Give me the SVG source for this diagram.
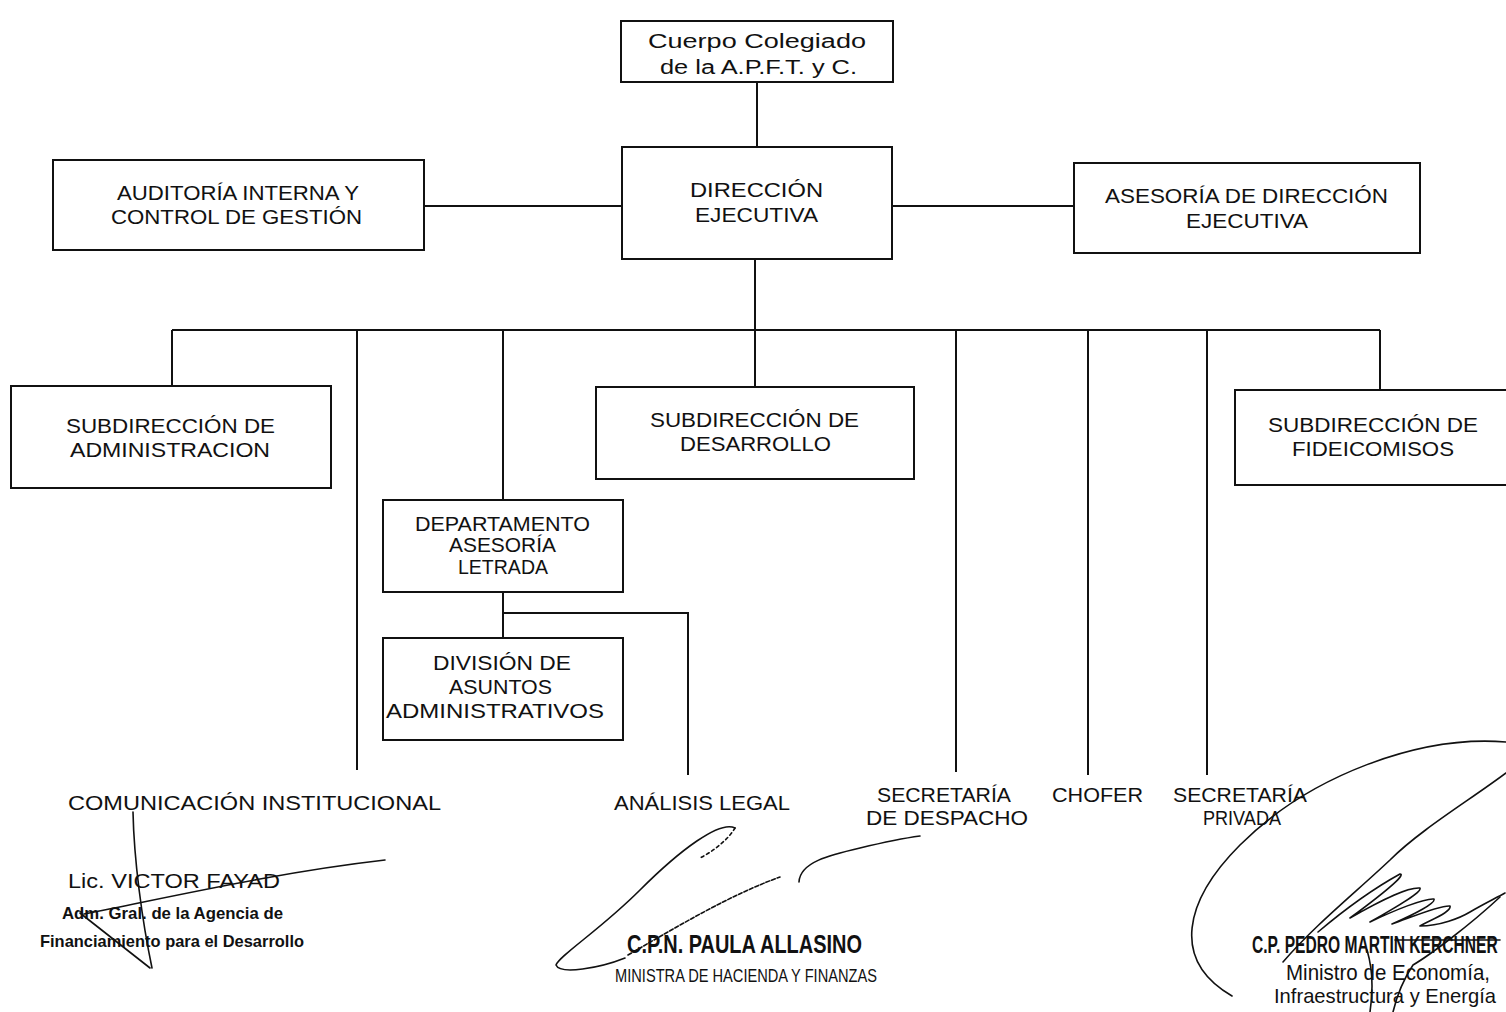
<svg xmlns="http://www.w3.org/2000/svg" width="1506" height="1012" viewBox="0 0 1506 1012">
<style>
.box{fill:#fff;stroke:#111;stroke-width:2}
.t{font-family:"Liberation Sans","DejaVu Sans",sans-serif;font-size:19.5px;fill:#111}
.c{stroke:#111;stroke-width:2;fill:none}
.sig{stroke:#111;stroke-width:1.6;fill:none;stroke-linecap:round;stroke-linejoin:round}
.s{font-family:"Liberation Sans Narrow","Liberation Sans",sans-serif;fill:#111}
</style>
<rect width="1506" height="1012" fill="#fff"/>
<g id="connectors">
<path class="c" d="M757 82V147"/>
<path class="c" d="M424 206H622"/>
<path class="c" d="M892 206H1074"/>
<path class="c" d="M755 259V387"/>
<path class="c" d="M172 330H1380"/>
<path class="c" d="M172 330V386"/>
<path class="c" d="M357 330V770"/>
<path class="c" d="M503 330V500"/>
<path class="c" d="M956 330V772"/>
<path class="c" d="M1088 330V775"/>
<path class="c" d="M1207 330V775"/>
<path class="c" d="M1380 330V390"/>
<path class="c" d="M503 592V638"/>
<path class="c" d="M503 613H688V775"/>
</g>
<g id="cuerpo">
<rect class="box" x="621" y="21" width="272" height="61"/>
<text class="t" x="648" y="48" textLength="218" lengthAdjust="spacingAndGlyphs">Cuerpo Colegiado</text>
<text class="t" x="660" y="74" textLength="197" lengthAdjust="spacingAndGlyphs">de la A.P.F.T. y C.</text>
</g>
<g id="direccion">
<rect class="box" x="622" y="147" width="270" height="112"/>
<text class="t" x="690" y="197" textLength="133" lengthAdjust="spacingAndGlyphs">DIRECCIÓN</text>
<text class="t" x="695" y="222" textLength="123" lengthAdjust="spacingAndGlyphs">EJECUTIVA</text>
</g>
<g id="auditoria">
<rect class="box" x="53" y="160" width="371" height="90"/>
<text class="t" x="117" y="200" textLength="242" lengthAdjust="spacingAndGlyphs">AUDITORÍA INTERNA Y</text>
<text class="t" x="111" y="224" textLength="251" lengthAdjust="spacingAndGlyphs">CONTROL DE GESTIÓN</text>
</g>
<g id="asesoria">
<rect class="box" x="1074" y="163" width="346" height="90"/>
<text class="t" x="1105" y="203" textLength="283" lengthAdjust="spacingAndGlyphs">ASESORÍA DE DIRECCIÓN</text>
<text class="t" x="1186" y="228" textLength="122" lengthAdjust="spacingAndGlyphs">EJECUTIVA</text>
</g>
<g id="sub-admin">
<rect class="box" x="11" y="386" width="320" height="102"/>
<text class="t" x="66" y="433" textLength="209" lengthAdjust="spacingAndGlyphs">SUBDIRECCIÓN DE</text>
<text class="t" x="70" y="457" textLength="200" lengthAdjust="spacingAndGlyphs">ADMINISTRACION</text>
</g>
<g id="sub-desarrollo">
<rect class="box" x="596" y="387" width="318" height="92"/>
<text class="t" x="650" y="427" textLength="209" lengthAdjust="spacingAndGlyphs">SUBDIRECCIÓN DE</text>
<text class="t" x="680" y="451" textLength="151" lengthAdjust="spacingAndGlyphs">DESARROLLO</text>
</g>
<g id="sub-fideicomisos">
<rect class="box" x="1235" y="390" width="280" height="95"/>
<text class="t" x="1268" y="432" textLength="210" lengthAdjust="spacingAndGlyphs">SUBDIRECCIÓN DE</text>
<text class="t" x="1292" y="456" textLength="162" lengthAdjust="spacingAndGlyphs">FIDEICOMISOS</text>
</g>
<g id="depto">
<rect class="box" x="383" y="500" width="240" height="92"/>
<text class="t" x="415" y="531" textLength="175" lengthAdjust="spacingAndGlyphs">DEPARTAMENTO</text>
<text class="t" x="449" y="552" textLength="107" lengthAdjust="spacingAndGlyphs">ASESORÍA</text>
<text class="t" x="458" y="574" textLength="90" lengthAdjust="spacingAndGlyphs">LETRADA</text>
</g>
<g id="division">
<rect class="box" x="383" y="638" width="240" height="102"/>
<text class="t" x="433" y="670" textLength="138" lengthAdjust="spacingAndGlyphs">DIVISIÓN DE</text>
<text class="t" x="449" y="694" textLength="103" lengthAdjust="spacingAndGlyphs">ASUNTOS</text>
<text class="t" x="386" y="718" textLength="218" lengthAdjust="spacingAndGlyphs">ADMINISTRATIVOS</text>
</g>
<g id="comunicacion">
<text class="t" x="68" y="810" textLength="373" lengthAdjust="spacingAndGlyphs">COMUNICACIÓN INSTITUCIONAL</text>
</g>
<g id="analisis">
<text class="t" x="614" y="810" textLength="176" lengthAdjust="spacingAndGlyphs">ANÁLISIS LEGAL</text>
</g>
<g id="sec-despacho">
<text class="t" x="877" y="802" textLength="134" lengthAdjust="spacingAndGlyphs">SECRETARÍA</text>
<text class="t" x="866" y="825" textLength="162" lengthAdjust="spacingAndGlyphs">DE DESPACHO</text>
</g>
<g id="chofer">
<text class="t" x="1052" y="802" textLength="91" lengthAdjust="spacingAndGlyphs">CHOFER</text>
</g>
<g id="sec-privada">
<text class="t" x="1173" y="802" textLength="134" lengthAdjust="spacingAndGlyphs">SECRETARÍA</text>
<text class="t" x="1203" y="825" textLength="78" lengthAdjust="spacingAndGlyphs">PRIVADA</text>
</g>
<g id="firma-fayad">
<text class="s" x="68" y="888" font-size="20" textLength="212" lengthAdjust="spacingAndGlyphs">Lic. VICTOR FAYAD</text>
<text class="s" x="62" y="919" font-size="17" font-weight="bold" textLength="221" lengthAdjust="spacingAndGlyphs">Adm. Gral. de la Agencia de</text>
<text class="s" x="40" y="947" font-size="17" font-weight="bold" textLength="264" lengthAdjust="spacingAndGlyphs">Financiamiento para el Desarrollo</text>
<path class="sig" d="M133 812C134 860 142 920 152 968"/>
<path class="sig" d="M80 913L150 968"/>
<path class="sig" d="M84 914C180 895 280 872 385 860"/>
</g>
<g id="firma-allasino">
<text class="s" x="627" y="953" font-size="25" font-weight="bold" textLength="235" lengthAdjust="spacingAndGlyphs">C.P.N. PAULA ALLASINO</text>
<text class="s" x="615" y="982" font-size="18" textLength="262" lengthAdjust="spacingAndGlyphs">MINISTRA DE HACIENDA Y FINANZAS</text>
<path class="sig" d="M735 828C720 820 680 850 640 890C600 930 560 955 556 965C560 975 600 968 625 958"/>
<path class="sig" d="M628 955C680 925 730 895 780 877" stroke-dasharray="4 2"/>
<path class="sig" d="M735 828C728 840 712 852 700 858" stroke-dasharray="3 3"/>
<path class="sig" d="M799 882C800 862 830 855 860 848C885 842 905 838 920 836"/>
</g>
<g id="firma-kerchner">
<text class="s" transform="translate(1252 953) scale(0.7 1)" font-size="23" font-weight="bold" textLength="351" lengthAdjust="spacingAndGlyphs">C.P. PEDRO MARTIN KERCHNER</text>
<text class="s" x="1286" y="980" font-size="22" textLength="204" lengthAdjust="spacingAndGlyphs">Ministro de Economía,</text>
<text class="s" x="1274" y="1003" font-size="21" textLength="222" lengthAdjust="spacingAndGlyphs">Infraestructura y Energía</text>
<path class="sig" d="M1506 742C1420 735 1310 775 1240 845C1185 900 1170 960 1232 996"/>
<path class="sig" d="M1506 773C1470 800 1420 830 1390 860C1355 893 1315 925 1283 962"/>
<path class="sig" d="M1318 932C1350 905 1380 885 1400 874C1405 874 1395 885 1350 918C1385 898 1408 887 1420 888C1422 892 1400 905 1370 922C1395 910 1425 898 1434 899C1436 903 1415 914 1392 924C1412 917 1440 905 1450 906C1452 912 1430 920 1420 926C1440 926 1460 918 1470 912C1480 906 1492 900 1505 893"/>
<path class="sig" d="M1500 897C1470 925 1430 955 1413 965C1403 980 1397 995 1393 1012"/>
<path class="sig" d="M1367 950C1373 970 1373 992 1370 1012"/>
<path class="sig" d="M1395 940H1500"/>
</g>
</svg>
